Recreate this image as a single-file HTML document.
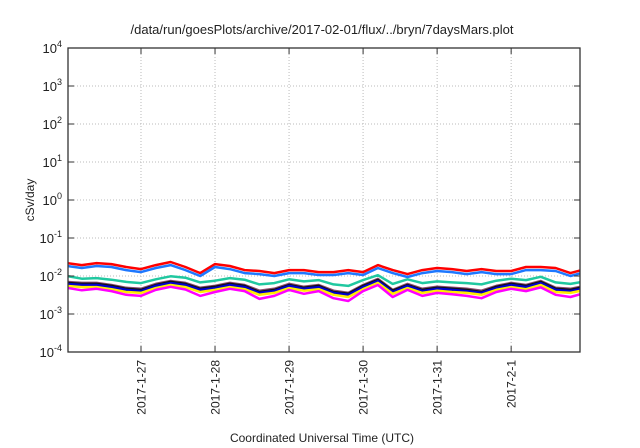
<!DOCTYPE html>
<html><head><meta charset="utf-8"><style>
body{margin:0;background:#fff;}
svg{display:block;font-family:"Liberation Sans",sans-serif;}
</style></head><body>
<svg id="chart" width="640" height="448" viewBox="0 0 640 448">
<rect width="640" height="448" fill="#fff"/>
<text x="322" y="34" font-size="13" text-anchor="middle" fill="#222">/data/run/goesPlots/archive/2017-02-01/flux/../bryn/7daysMars.plot</text>
<text transform="translate(34,200) rotate(-90)" font-size="12" text-anchor="middle" fill="#222">cSv/day</text>
<text x="322" y="442" font-size="12" text-anchor="middle" fill="#222">Coordinated Universal Time (UTC)</text>
<g id="grid"></g><g id="series"></g><g id="axes"></g>
</svg>
<script>
const dayLabels=["2017-1-27","2017-1-28","2017-1-29","2017-1-30","2017-1-31","2017-2-1"];
const dayTicks=[1,2,3,4,5,6];
const yExps=[-4,-3,-2,-1,0,1,2,3,4];
const times=[0,0.2,0.4,0.6,0.8,1.0,1.2,1.4,1.6,1.8,2.0,2.2,2.4,2.6,2.8,3.0,3.2,3.4,3.6,3.8,4.0,4.2,4.4,4.6,4.8,5.0,5.2,5.4,5.6,5.8,6.0,6.2,6.4,6.6,6.8,7.0];
const red=[0.0219,0.0194,0.0219,0.0206,0.0172,0.0152,0.0194,0.0233,0.0172,0.0119,0.0206,0.0183,0.0143,0.0135,0.0119,0.0143,0.0143,0.0127,0.0127,0.0143,0.0127,0.0194,0.0143,0.0112,0.0143,0.0162,0.0152,0.0135,0.0152,0.0135,0.0135,0.0172,0.0172,0.0162,0.0119,0.0152];
const blue=[0.0183,0.0162,0.0183,0.0172,0.0143,0.0127,0.0162,0.0194,0.0143,0.0100,0.0172,0.0152,0.0119,0.0112,0.0100,0.0119,0.0119,0.0106,0.0106,0.0119,0.0106,0.0162,0.0119,0.0094,0.0119,0.0135,0.0127,0.0112,0.0127,0.0112,0.0112,0.0143,0.0143,0.0135,0.0100,0.0127];
const teal=[.0100,.0085,.0088,.0080,.0070,.0065,.0082,.0098,.0090,.0068,.0075,.0088,.0080,.0060,.0065,.0082,.0072,.0078,.0060,.0055,.0078,.0105,.0062,.0082,.0065,.0072,.0068,.0065,.0060,.0075,.0085,.0078,.0095,.0068,.0062,.0072];
const brown=[.0070,.0066,.0066,.0058,.0049,.0046,.0062,.0074,.0066,.0049,.0055,.0066,.0058,.0041,.0046,.0062,.0052,.0058,.0041,.0036,.0058,.0084,.0043,.0062,.0046,.0052,.0049,.0046,.0041,.0055,.0066,.0058,.0074,.0049,.0046,.0055];
const black=[.0066,.0062,.0062,.0055,.0046,.0043,.0058,.0070,.0062,.0046,.0052,.0062,.0055,.0038,.0043,.0058,.0049,.0055,.0038,.0034,.0055,.0079,.0041,.0058,.0043,.0049,.0046,.0043,.0038,.0052,.0062,.0055,.0070,.0046,.0043,.0052];
const darkblue=[.0062,.0058,.0058,.0051,.0043,.0040,.0055,.0065,.0058,.0043,.0048,.0058,.0051,.0036,.0040,.0055,.0046,.0051,.0036,.0032,.0051,.0074,.0038,.0055,.0040,.0046,.0043,.0040,.0036,.0048,.0058,.0051,.0065,.0043,.0040,.0048];
const yellow=[.0055,.0051,.0051,.0045,.0038,.0036,.0048,.0058,.0051,.0038,.0043,.0051,.0045,.0032,.0036,.0048,.0041,.0045,.0032,.0028,.0045,.0066,.0034,.0048,.0036,.0041,.0038,.0036,.0032,.0043,.0051,.0045,.0058,.0038,.0036,.0043];
const magenta=[.0049,.0042,.0046,.0040,.0032,.0030,.0043,.0052,.0044,.0030,.0038,.0046,.0040,.0025,.0030,.0043,.0034,.0040,.0026,.0022,.0040,.0058,.0028,.0043,.0030,.0036,.0033,.0030,.0026,.0038,.0046,.0040,.0050,.0032,.0028,.0036];

const NS="http://www.w3.org/2000/svg";
const L=68,R=580,T=48,B=352,xMin=0.014,xMax=6.93;
const xs=d=>L+(d-xMin)/(xMax-xMin)*(R-L);
const ys=v=>B-(Math.log10(v)+4)/8*(B-T);
function mk(tag,attrs,parent){const e=document.createElementNS(NS,tag);for(const k in attrs)e.setAttribute(k,attrs[k]);parent.appendChild(e);return e;}
const grid=document.getElementById('grid'),ser=document.getElementById('series'),axes=document.getElementById('axes');
yExps.forEach(p=>{
  const y=ys(Math.pow(10,p));
  if(p>-4&&p<4){const g=mk('line',{x1:L,x2:R,y1:y,y2:y,stroke:'#bbb','stroke-dasharray':'1,2','stroke-width':1},grid);
  
  }
  const t=mk('text',{x:62,y:y+5,'font-size':13,'text-anchor':'end',fill:'#222'},axes);
  
  
  t.textContent='10';
  const s=mk('tspan',{dy:-6,'font-size':9},t);s.textContent=String(p);
  mk('line',{x1:L,x2:L+6,y1:y,y2:y,stroke:'#333'},axes);
  mk('line',{x1:R-6,x2:R,y1:y,y2:y,stroke:'#333'},axes);
});
dayTicks.forEach((d,i)=>{
  const x=xs(d);
  const g=mk('line',{x1:x,x2:x,y1:T,y2:B,stroke:'#bbb','stroke-dasharray':'1,2','stroke-width':1},grid);
  
  
  mk('line',{x1:x,x2:x,y1:B-6,y2:B,stroke:'#333'},axes);
  mk('line',{x1:x,x2:x,y1:T,y2:T+6,stroke:'#333'},axes);
  const t=mk('text',{transform:`translate(${x+4.5},360) rotate(-90)`,'font-size':12,'text-anchor':'end',fill:'#222'},axes);
  
  
  t.textContent=dayLabels[i];
});
const frame=mk('rect',{x:L,y:T,width:R-L,height:B-T,fill:'none',stroke:'#333','stroke-width':1.3},axes);


mk('clipPath',{id:'clip'},ser);
mk('rect',{x:L,y:T,width:R-L,height:B-T},ser.lastChild);
const list=[[red,'#ff0000','series-red'],[blue,'#1e78ff','series-blue'],[teal,'#20c8a0','series-teal'],[brown,'#8a4a70','series-brown'],[black,'#111','series-black'],[darkblue,'#0000d0','series-darkblue'],[yellow,'#ffee00','series-yellow'],[magenta,'#ff00ff','series-magenta']];
list.forEach(([vals,c,n])=>{
  const pts=vals.map((v,i)=>xs(times[i]).toFixed(1)+','+ys(v).toFixed(1)).join(' ');
  const p=mk('polyline',{points:pts,fill:'none',stroke:c,'stroke-width':2.5,'stroke-linejoin':'round','clip-path':'url(#clip)'},ser);
  
  
});
</script>
</body></html>
